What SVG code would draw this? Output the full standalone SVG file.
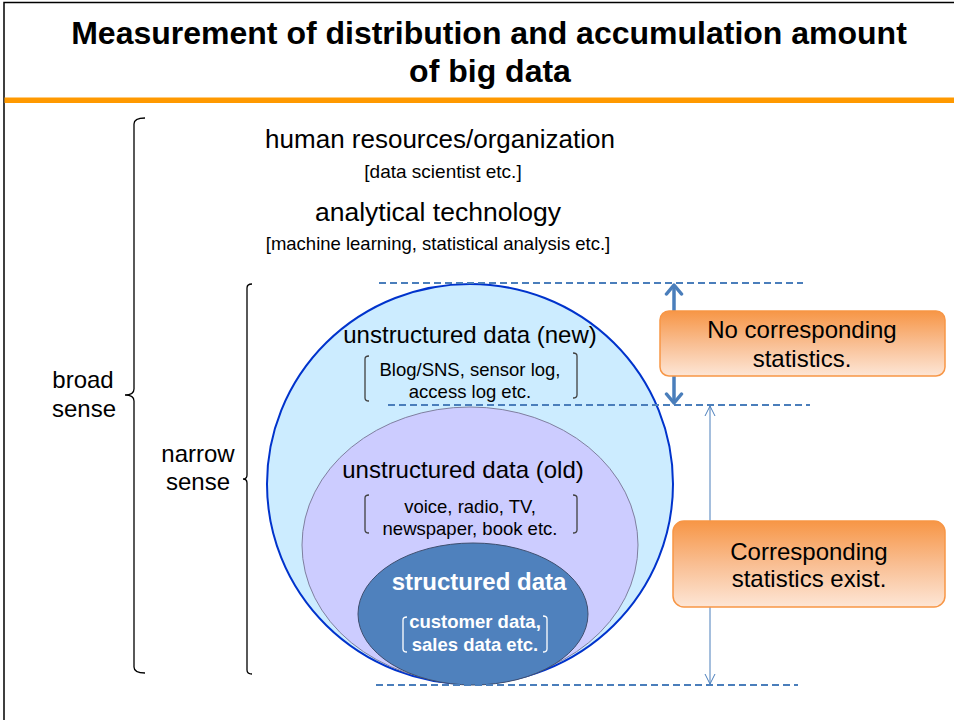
<svg xmlns="http://www.w3.org/2000/svg" width="954" height="720" viewBox="0 0 954 720">
<defs>
<linearGradient id="og" x1="0" y1="0" x2="0" y2="1">
<stop offset="0" stop-color="#F79646"/>
<stop offset="0.5" stop-color="#F9BE92"/>
<stop offset="1" stop-color="#FDE6D6"/>
</linearGradient>
<marker id="ahThick" viewBox="-12 -10 14 20" refX="0" refY="0" markerWidth="14" markerHeight="20" markerUnits="userSpaceOnUse" orient="auto-start-reverse">
<path d="M-9,-7.5 L0,0 L-9,7.5" fill="none" stroke="#4A7EBB" stroke-width="3.5" stroke-linecap="round" stroke-linejoin="round"/>
</marker>
<marker id="ahThin" viewBox="-12 -8 14 16" refX="0" refY="0" markerWidth="14" markerHeight="16" markerUnits="userSpaceOnUse" orient="auto-start-reverse">
<path d="M-10,-5 L0,0 L-10,5" fill="none" stroke="#4A7EBB" stroke-width="1"/>
</marker>
</defs>
<style>
text{font-family:"Liberation Sans",Arial,sans-serif;fill:#000;text-anchor:middle}
.title{font-size:32px;font-weight:bold}
.big{font-size:26px}
.mid{font-size:24px}
.sm{font-size:18.5px}
.wb{fill:#fff;font-weight:bold}
.brace{fill:none;stroke:#000;stroke-width:1.3}
.brk{fill:none;stroke:#404040;stroke-width:1.3}
.brkw{fill:none;stroke:#fff;stroke-width:1.3}
.dash{stroke:#4A7EBB;stroke-width:2;stroke-dasharray:7,4;fill:none}
.box{fill:url(#og);stroke:#F79646;stroke-width:1.5}
</style>
<rect x="0" y="0" width="954" height="720" fill="#fff"/>
<rect x="4" y="2.5" width="960" height="730" fill="none" stroke="#000" stroke-width="1.5"/>
<g id="title">
<text class="title" x="489" y="44">Measurement of distribution and accumulation amount</text>
<text class="title" x="490" y="82">of big data</text>
<rect x="4.5" y="97.5" width="950" height="5.5" fill="#FF9900"/>
</g>
<g id="broad-sense">
<path class="brace" d="M145,118 Q134,118 134,124 L134,389 Q134,395 125,395 Q134,395 134,401 L134,667 Q134,673 145,673"/>
<text class="mid" x="83" y="388">broad</text>
<text class="mid" x="84" y="417">sense</text>
</g>
<g id="narrow-sense">
<path class="brace" d="M252,284 Q247,284 247,288 L247,475 Q247,479 243,479 Q247,479 247,483 L247,670 Q247,674 252,674"/>
<text class="mid" x="198" y="462">narrow</text>
<text class="mid" x="198" y="490">sense</text>
</g>
<g id="human-resources">
<text class="big" x="440" y="148">human resources/organization</text>
<text style="font-size:19px" x="443" y="178">[data scientist etc.]</text>
</g>
<g id="analytical-technology">
<text style="font-size:26.5px" x="438" y="221">analytical technology</text>
<text class="sm" x="438" y="250">[machine learning, statistical analysis etc.]</text>
</g>
<g id="unstructured-new">
<ellipse cx="470" cy="484" rx="203" ry="200" fill="#CCECFF" stroke="#0033CC" stroke-width="2"/>
<text class="mid" x="470" y="343">unstructured data (new)</text>
<text class="sm" x="470" y="376">Blog/SNS, sensor log,</text>
<text class="sm" x="470" y="398">access log etc.</text>
<path class="brk" d="M369,356 Q365,356 365,359 L365,398 Q365,401 369,401"/>
<path class="brk" d="M573,353 Q577,353 577,356 L577,395 Q577,398 573,398"/>
</g>
<g id="unstructured-old">
<ellipse cx="470" cy="545" rx="168" ry="138" fill="#CCCCFF" stroke="#7F7F9F" stroke-width="1"/>
<text class="mid" x="463" y="478">unstructured data (old)</text>
<text class="sm" x="470" y="513">voice, radio, TV,</text>
<text class="sm" x="470" y="535">newspaper, book etc.</text>
<path class="brk" d="M369,495 Q365,495 365,498 L365,530 Q365,533 369,533"/>
<path class="brk" d="M573,495 Q577,495 577,498 L577,530 Q577,533 573,533"/>
</g>
<g id="structured">
<ellipse cx="473" cy="614" rx="115" ry="71" fill="#4F81BD" stroke="#3F4F6F" stroke-width="1"/>
<text class="mid wb" x="479" y="590">structured data</text>
<text class="sm wb" x="475" y="628">customer data,</text>
<text class="sm wb" x="475" y="651">sales data etc.</text>
<path class="brkw" d="M407,617 Q403,617 403,620 L403,649 Q403,652 407,652"/>
<path class="brkw" d="M543,616 Q547,616 547,619 L547,649 Q547,652 543,652"/>
</g>
<g id="connectors">
<line class="dash" x1="379" y1="283" x2="803" y2="283"/>
<line class="dash" x1="388" y1="405" x2="810" y2="405"/>
<line class="dash" x1="376" y1="685" x2="798" y2="685"/>
<line x1="674" y1="285" x2="674" y2="403" stroke="#4A7EBB" stroke-width="3.5" marker-start="url(#ahThick)" marker-end="url(#ahThick)"/>
<line x1="710" y1="406" x2="710" y2="684" stroke="#4A7EBB" stroke-width="1" marker-start="url(#ahThin)" marker-end="url(#ahThin)"/>
</g>
<g id="no-stats">
<rect class="box" x="660" y="311" width="285" height="65" rx="9"/>
<text class="mid" x="802" y="338">No corresponding</text>
<text class="mid" x="802" y="367">statistics.</text>
</g>
<g id="stats-exist">
<rect class="box" x="673" y="521" width="272" height="86" rx="11"/>
<text class="mid" x="809" y="560">Corresponding</text>
<text class="mid" x="809" y="587">statistics exist.</text>
</g>
</svg>
